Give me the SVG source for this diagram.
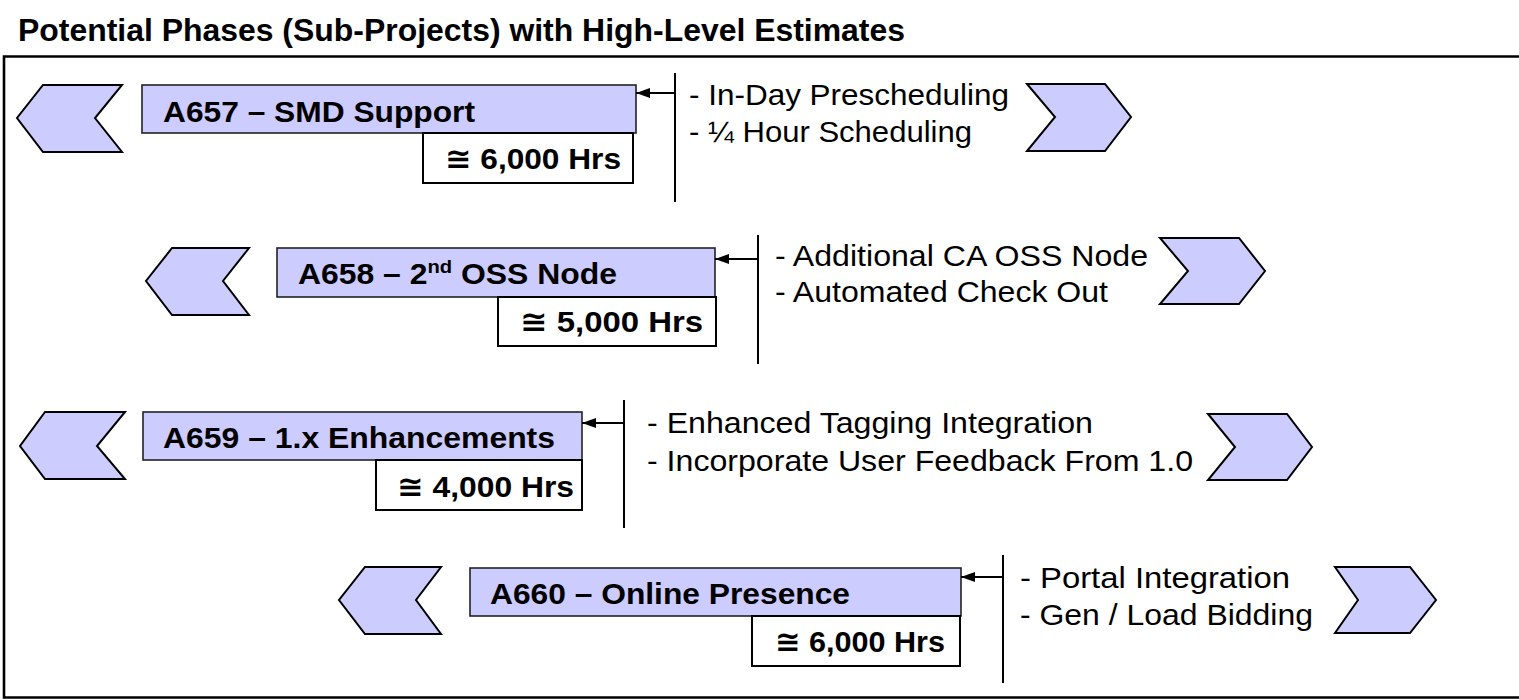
<svg xmlns="http://www.w3.org/2000/svg" width="1519" height="700" viewBox="0 0 1519 700">
  <style>
    .title { font-family: "Liberation Sans", Arial, sans-serif; font-weight: bold; font-size: 31px; fill: #000; }
    .label { font-family: "Liberation Sans", Arial, sans-serif; font-weight: bold; font-size: 30px; fill: #000; }
    .est { font-family: "Liberation Sans", "DejaVu Sans", Arial, sans-serif; font-weight: bold; font-size: 30px; fill: #000; }
    .bullet { font-family: "Liberation Sans", Arial, sans-serif; font-size: 30px; fill: #000; }
    .chev { fill: #CCCCFF; stroke: #000; stroke-width: 2; stroke-linejoin: miter; }
    .phase { fill: #CCCCFF; stroke: #222; stroke-width: 1.6; }
    .hours { fill: #FFFFFF; stroke: #000; stroke-width: 2; }
    .bar { stroke: #000; stroke-width: 2; fill: none; }
    .link { stroke: #000; stroke-width: 2; fill: none; marker-end: url(#arrowhead); }
    .frame { stroke: #000; stroke-width: 2.6; fill: none; }
  </style>
  <defs>
    <marker id="arrowhead" viewBox="0 0 14 10" refX="14" refY="5" markerWidth="14" markerHeight="10" markerUnits="userSpaceOnUse" orient="auto">
      <path d="M0,0 L14,5 L0,10 Z" fill="#000"/>
    </marker>
  </defs>

  <rect width="1519" height="700" fill="#FFFFFF"/>

  <text class="title" x="18" y="41" textLength="887" lengthAdjust="spacingAndGlyphs">Potential Phases (Sub-Projects) with High-Level Estimates</text>
  <path class="frame" d="M1519,56.5 H4 V697.5 H1519"/>

  <!-- A657 -->
  <g id="phase-a657">
    <polygon class="chev" points="43,85 122,85 95,118 122,152 43,152 17,118"/>
    <rect class="phase" x="142" y="85" width="494" height="48"/>
    <text class="label" x="163" y="122" textLength="312" lengthAdjust="spacingAndGlyphs">A657 – SMD Support</text>
    <rect class="hours" x="423" y="133" width="210" height="50"/>
    <text class="est" x="445" y="169" textLength="176" lengthAdjust="spacingAndGlyphs">≅ 6,000 Hrs</text>
    <line class="bar" x1="675" y1="73" x2="675" y2="202"/>
    <text class="bullet" x="689" y="105" textLength="320" lengthAdjust="spacingAndGlyphs">- In-Day Prescheduling</text>
    <text class="bullet" x="689" y="142" textLength="283" lengthAdjust="spacingAndGlyphs">- ¼ Hour Scheduling</text>
    <polygon class="chev" points="1027,84 1105,84 1131,117 1105,151 1027,151 1055,117"/>
  </g>

  <!-- A658 -->
  <g id="phase-a658">
    <polygon class="chev" points="172,248 249,248 223,281 249,315 172,315 146,281"/>
    <rect class="phase" x="277" y="248" width="438" height="49"/>
    <text class="label" x="298" y="284" textLength="319" lengthAdjust="spacingAndGlyphs">A658 – 2<tspan font-size="19" dy="-11">nd</tspan><tspan dy="11"> OSS Node</tspan></text>
    <rect class="hours" x="498" y="297" width="218" height="49"/>
    <text class="est" x="520" y="332" textLength="183" lengthAdjust="spacingAndGlyphs">≅  5,000 Hrs</text>
    <line class="bar" x1="758" y1="235" x2="758" y2="364"/>
    <text class="bullet" x="775" y="266" textLength="373" lengthAdjust="spacingAndGlyphs">- Additional CA OSS Node</text>
    <text class="bullet" x="775" y="302" textLength="333" lengthAdjust="spacingAndGlyphs">- Automated Check Out</text>
    <polygon class="chev" points="1160,238 1239,238 1265,271 1239,304 1160,304 1188,271"/>
  </g>

  <!-- A659 -->
  <g id="phase-a659">
    <polygon class="chev" points="45,412 125,412 97,446 125,479 45,479 20,446"/>
    <rect class="phase" x="143" y="412" width="439" height="48"/>
    <text class="label" x="163" y="448" textLength="392" lengthAdjust="spacingAndGlyphs">A659 – 1.x Enhancements</text>
    <rect class="hours" x="376" y="460" width="206" height="50"/>
    <text class="est" x="397" y="497" textLength="177" lengthAdjust="spacingAndGlyphs">≅  4,000 Hrs</text>
    <line class="bar" x1="624" y1="400" x2="624" y2="528"/>
    <text class="bullet" x="647" y="433" textLength="446" lengthAdjust="spacingAndGlyphs">- Enhanced Tagging Integration</text>
    <text class="bullet" x="647" y="471" textLength="546" lengthAdjust="spacingAndGlyphs">- Incorporate User Feedback From 1.0</text>
    <polygon class="chev" points="1208,414 1287,414 1312,447 1287,480 1208,480 1235,447"/>
  </g>

  <!-- A660 -->
  <g id="phase-a660">
    <polygon class="chev" points="365,567 441,567 416,600 441,634 365,634 339,600"/>
    <rect class="phase" x="470" y="568" width="491" height="48"/>
    <text class="label" x="490" y="604" textLength="360" lengthAdjust="spacingAndGlyphs">A660 – Online Presence</text>
    <rect class="hours" x="752" y="616" width="208" height="50"/>
    <text class="est" x="775" y="652" textLength="170" lengthAdjust="spacingAndGlyphs">≅ 6,000 Hrs</text>
    <line class="bar" x1="1003" y1="555" x2="1003" y2="683"/>
    <text class="bullet" x="1020" y="588" textLength="270" lengthAdjust="spacingAndGlyphs">- Portal Integration</text>
    <text class="bullet" x="1020" y="625" textLength="293" lengthAdjust="spacingAndGlyphs">- Gen / Load Bidding</text>
    <polygon class="chev" points="1335,567 1410,567 1436,600 1410,633 1335,633 1358,600"/>
  </g>

  <!-- connectors: bracket bar to phase box -->
  <g id="connectors">
    <line class="link" x1="675" y1="93" x2="636" y2="93"/>
    <line class="link" x1="758" y1="259" x2="715" y2="259"/>
    <line class="link" x1="624" y1="423" x2="582" y2="423"/>
    <line class="link" x1="1003" y1="577" x2="961" y2="577"/>
  </g>
</svg>
